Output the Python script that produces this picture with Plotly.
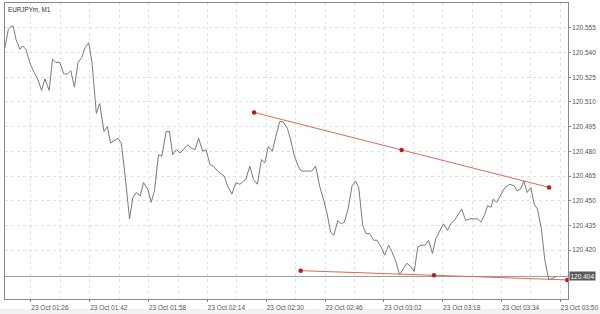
import plotly.graph_objects as go
from datetime import datetime, timedelta

# ---- data ----
base_time = datetime(2023, 10, 23, 1, 26)
minutes = [-7.05, -6.15, -5.42, -4.80, -4.07, -3.44, -2.98, -2.25, -1.36, -0.73,
           0.0, 0.89, 1.82, 2.90, 3.79, 4.96, 5.88, 6.78, 7.86, 8.94,
           9.95, 10.84, 11.84, 12.82, 13.82, 14.72, 15.72, 16.61, 17.80, 18.70,
           19.86, 20.79, 21.68, 23.66, 24.58, 25.47, 26.83, 27.72, 28.64, 29.73,
           30.62, 31.79, 32.71, 33.60, 34.69, 35.58, 36.78, 37.67, 38.56, 39.49,
           40.57, 42.63, 43.55, 44.63, 45.61, 46.69, 47.62, 48.70, 49.59, 50.76,
           52.57, 53.47, 54.66, 55.75, 56.83, 58.46, 59.54, 60.51, 61.60, 62.68,
           63.60, 64.58, 65.66, 66.59, 67.67, 68.56, 69.73, 70.65, 71.54, 72.71,
           73.52, 74.72, 76.34, 77.43, 78.51, 79.67, 80.57, 81.49, 82.38, 83.47,
           84.36, 85.28, 86.26, 87.34, 88.27, 89.16, 90.24, 91.14, 92.14, 93.22,
           94.12, 95.20, 96.21, 97.29, 98.18, 99.27, 100.27, 101.36, 102.25, 103.33,
           104.25, 105.23, 106.15, 107.24, 108.13, 109.21, 110.11, 111.03, 112.20, 113.28,
           114.17, 115.18, 116.26, 117.15, 118.24, 119.43, 121.49, 122.41, 123.31, 124.20,
           125.12, 125.75, 126.64, 127.83, 128.92, 130.27, 131.44, 132.25, 133.14, 134.06,
           134.96, 135.96, 136.86, 137.75, 138.83, 139.76, 140.84, 142.01, 142.90]
prices = [120.543, 120.554, 120.556, 120.556, 120.548, 120.545, 120.542, 120.544, 120.542, 120.537,
          120.532, 120.528, 120.524, 120.517, 120.524, 120.517, 120.536, 120.534, 120.534, 120.527,
          120.527, 120.529, 120.519, 120.534, 120.537, 120.543, 120.546, 120.534, 120.503, 120.509,
          120.492, 120.495, 120.485, 120.488, 120.485, 120.468, 120.439, 120.452, 120.455, 120.453,
          120.461, 120.457, 120.449, 120.456, 120.478, 120.477, 120.492, 120.492, 120.478, 120.481,
          120.479, 120.484, 120.482, 120.481, 120.488, 120.480, 120.481, 120.472, 120.471, 120.468,
          120.465, 120.459, 120.454, 120.461, 120.460, 120.463, 120.471, 120.463, 120.460, 120.475,
          120.473, 120.483, 120.480, 120.489, 120.498, 120.498, 120.494, 120.487, 120.478, 120.471,
          120.468, 120.468, 120.468, 120.471, 120.459, 120.450, 120.442, 120.431, 120.429, 120.438,
          120.436, 120.437, 120.445, 120.459, 120.462, 120.458, 120.435, 120.430, 120.430, 120.426,
          120.426, 120.422, 120.417, 120.423, 120.419, 120.413, 120.405, 120.409, 120.412, 120.410,
          120.407, 120.422, 120.423, 120.423, 120.426, 120.418, 120.427, 120.431, 120.436, 120.432,
          120.436, 120.438, 120.442, 120.445, 120.438, 120.439, 120.439, 120.437, 120.441, 120.447,
          120.446, 120.451, 120.449, 120.454, 120.458, 120.460, 120.459, 120.456, 120.457, 120.462,
          120.455, 120.458, 120.448, 120.445, 120.433, 120.414, 120.402, 120.403, 120.404]

upper_trend_minutes = [60.70, 140.92]
upper_trend_prices = [120.5036, 120.4581]
lower_trend_minutes = [73.36, 145.88]
lower_trend_prices = [120.4075, 120.4019]

current_price = 120.404
y_tick_values = [120.420, 120.435, 120.450, 120.465, 120.480, 120.495,
                 120.510, 120.525, 120.540, 120.555]
x_range_minutes = [-7.05, 146.07]
y_range = [120.3903, 120.5701]
title_text = "EURJPYm, M1"


def to_time(m):
    return base_time + timedelta(minutes=m)


times = [to_time(m) for m in minutes]


def trend_points(ms, ps):
    mid_m = (ms[0] + ms[1]) / 2
    mid_p = (ps[0] + ps[1]) / 2
    return [to_time(ms[0]), to_time(mid_m), to_time(ms[1])], [ps[0], mid_p, ps[1]]


fig = go.Figure()

fig.add_trace(go.Scatter(x=times, y=prices, mode="lines",
                         line=dict(color="#7a7a7a", width=1),
                         hoverinfo="skip", showlegend=False))

for ms, ps in [(upper_trend_minutes, upper_trend_prices),
               (lower_trend_minutes, lower_trend_prices)]:
    tx, ty = trend_points(ms, ps)
    fig.add_trace(go.Scatter(x=tx, y=ty, mode="lines+markers",
                             line=dict(color="#e0685a", width=1),
                             marker=dict(color="#b81c1c", size=4.5),
                             hoverinfo="skip", showlegend=False, cliponaxis=False))

# current price line
fig.add_shape(type="line", xref="x domain", x0=0, x1=1, yref="y",
              y0=current_price, y1=current_price,
              line=dict(color="#9a9a9a", width=1), layer="below")

# bottom light strip
fig.add_shape(type="rect", xref="paper", x0=-0.02, x1=1.1, yref="paper",
              y0=-0.07, y1=-0.034, fillcolor="#f2f2f2", line=dict(width=0),
              layer="below")

fig.add_annotation(xref="paper", x=1.0, xanchor="left", xshift=1,
                   yref="y", y=current_price, yanchor="middle",
                   text=f"{current_price:.3f}", showarrow=False,
                   bgcolor="#5a5a5a", borderpad=0.5,
                   font=dict(family="Liberation Sans, Arial", size=6.5, color="#ffffff"))

fig.add_annotation(xref="paper", x=0, xanchor="left", xshift=1,
                   yref="paper", y=1, yanchor="top", yshift=-1,
                   text=title_text, showarrow=False,
                   font=dict(family="Liberation Sans, Arial", size=6.3, color="#333333"))

fig.update_layout(
    width=600, height=314,
    margin=dict(l=5, r=30, t=2, b=15),
    paper_bgcolor="#ffffff", plot_bgcolor="#ffffff",
    font=dict(family="Liberation Sans, Arial", size=6.5, color="#555555"),
    xaxis=dict(
        type="date",
        range=[to_time(x_range_minutes[0]), to_time(x_range_minutes[1])],
        tick0=base_time, dtick=16 * 60 * 1000,
        tickformat="%d %b %H:%M",
        ticks="outside", ticklen=2, tickcolor="#888888",
        ticklabelshift=19, ticklabelstandoff=0, ticklabeloverflow="allow",
        showgrid=True, gridcolor="#e2e2e2", griddash="dot", gridwidth=1,
        minor=dict(dtick=8 * 60 * 1000, tick0=base_time, showgrid=True,
                   gridcolor="#e2e2e2", griddash="dot", gridwidth=1),
        showline=True, linecolor="#888888", linewidth=1, mirror=True,
        zeroline=False, fixedrange=True,
    ),
    yaxis=dict(
        side="right", range=y_range,
        tickvals=y_tick_values, tickformat=".3f",
        ticks="outside", ticklen=2, tickcolor="#888888",
        showgrid=True, gridcolor="#e2e2e2", griddash="dot", gridwidth=1,
        showline=True, linecolor="#888888", linewidth=1, mirror=True,
        zeroline=False, fixedrange=True,
    ),
)

fig.write_html("out.html")
